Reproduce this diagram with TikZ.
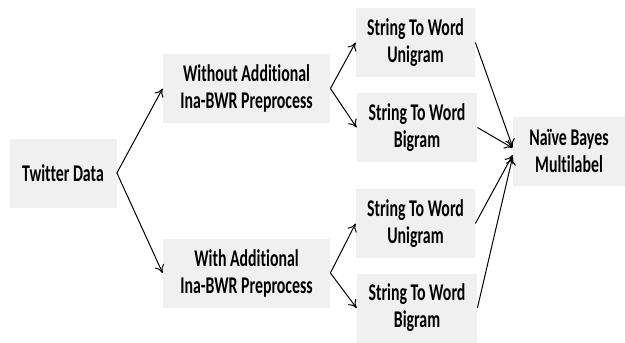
\documentclass[tikz,border=0pt]{standalone}
\usepackage{fontspec}
\setmainfont[FakeStretch=0.66,Ligatures={NoCommon}]{Carlito}
\usepackage{tikz}
\usetikzlibrary{arrows.meta,positioning}

\begin{document}
\begin{tikzpicture}[
  x=0.5pt,
  y=-0.5pt,
  box/.style={
    rectangle,
    draw=none,
    fill=black!6,
    align=center,
    font=\fontsize{12}{13.5}\selectfont\bfseries,
    minimum height=34.5pt,
    inner sep=2pt
  },
  arrow/.style={-{To[length=4pt,width=5pt]}, line width=0.5pt, draw=black}
]
\useasboundingbox (0,0) rectangle (625,342);

\node[box, minimum width=53.5pt] (twitter) at (63, 173)
  {Twitter Data};

\node[box, minimum width=83.5pt] (without) at (246.5, 88.5)
  {Without Additional\\Ina-BWR Preprocess};
\node[box, minimum width=83.5pt] (with) at (246.5, 273)
  {With Additional\\Ina-BWR Preprocess};

\node[box, minimum width=59.5pt] (uni1) at (415.5, 42.5)
  {String To Word\\Unigram};
\node[box, minimum width=60pt] (bi1) at (417, 127.5)
  {String To Word\\Bigram};
\node[box, minimum width=59.5pt] (uni2) at (415.5, 223.5)
  {String To Word\\Unigram};
\node[box, minimum width=60pt] (bi2) at (417, 308)
  {String To Word\\Bigram};

\node[box, minimum width=56pt] (bayes) at (569, 151)
  {Na\"ive Bayes\\Multilabel};

\draw[arrow] (twitter.east) -- (without.west);
\draw[arrow] (twitter.east) -- (with.west);
\draw[arrow] (without.east) -- (uni1.west);
\draw[arrow] (without.east) -- (bi1.west);
\draw[arrow] (with.east) -- (uni2.west);
\draw[arrow] (with.east) -- (bi2.west);
\draw[arrow] (uni1.east) -- ([yshift=2pt]bayes.west);
\draw[arrow] (bi1.east) -- ([yshift=1.5pt]bayes.west);
\draw[arrow] (uni2.east) -- ([yshift=-2pt]bayes.west);
\draw[arrow] (bi2.east) -- ([yshift=-3pt]bayes.west);
\end{tikzpicture}
\end{document}
